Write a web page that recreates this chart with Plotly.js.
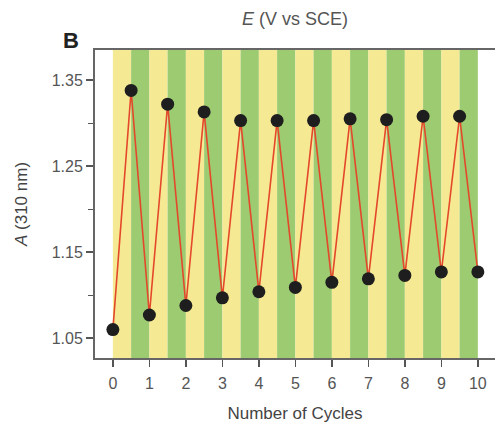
<!DOCTYPE html>
<html>
<head>
<meta charset="utf-8">
<script src="https://cdn.plot.ly/plotly-3.0.1.min.js"></script>
<style>html,body{margin:0;padding:0;background:#fff;}#chart{width:495px;height:425px;}</style>
</head>
<body>
<div id="chart"></div>
<script>
// Data
const cycles = [0, 0.5, 1, 1.5, 2, 2.5, 3, 3.5, 4, 4.5, 5, 5.5, 6, 6.5, 7, 7.5, 8, 8.5, 9, 9.5, 10];
const absorbance = [1.060, 1.338, 1.077, 1.322, 1.088, 1.313, 1.097, 1.303, 1.104, 1.303, 1.109, 1.303, 1.115, 1.305, 1.119, 1.304, 1.123, 1.308, 1.127, 1.308, 1.127];
const stripeStarts = [0, 0.5, 1, 1.5, 2, 2.5, 3, 3.5, 4, 4.5, 5, 5.5, 6, 6.5, 7, 7.5, 8, 8.5, 9, 9.5];
const stripeColors = ["#f6e994", "#9dcb72"];
const xTicks = [0, 1, 2, 3, 4, 5, 6, 7, 8, 9, 10];
const yTicks = [1.05, 1.15, 1.25, 1.35];
const yTickText = ["1.05", "1.15", "1.25", "1.35"];
const yMinorTicks = [1.10, 1.20, 1.30];

const shapes = stripeStarts.map((s, i) => ({
  type: "rect", xref: "x", yref: "paper",
  x0: s, x1: s + 0.5, y0: 0, y1: 1,
  fillcolor: stripeColors[i % 2], line: {width: 0}, layer: "below"
}));

const trace = {
  x: cycles, y: absorbance, mode: "lines+markers", type: "scatter",
  line: {color: "#e4482a", width: 1.6},
  marker: {color: "#1e1e1e", size: 13},
  cliponaxis: false
};

const FONT = "Liberation Sans, Arial, sans-serif";
const tickFont = {family: FONT, size: 16, color: "#555"};

const layout = {
  width: 495, height: 425,
  margin: {l: 95, r: 0, t: 50, b: 67},
  paper_bgcolor: "#fff", plot_bgcolor: "#fff",
  showlegend: false,
  shapes: shapes,
  xaxis: {
    range: [-0.49, 10.47], tickvals: xTicks, ticktext: xTicks.map(String),
    ticks: "outside", ticklen: 7, tickwidth: 1.5, tickcolor: "#555",
    ticklabelstandoff: 3,
    showline: true, linecolor: "#666", linewidth: 2, mirror: true,
    showgrid: false, zeroline: false, tickfont: tickFont,
    title: {text: "Number of Cycles", font: {family: FONT, size: 17, color: "#444"}, standoff: 16}
  },
  yaxis: {
    range: [1.027, 1.385], tickvals: yTicks, ticktext: yTickText,
    ticks: "outside", ticklen: 7, tickwidth: 1.5, tickcolor: "#555",
    minor: {tickvals: yMinorTicks, ticks: "outside", ticklen: 5, tickcolor: "#555", tickwidth: 1.2},
    showline: true, linecolor: "#666", linewidth: 2, mirror: true,
    showgrid: false, zeroline: false, tickfont: tickFont,
    title: {text: "<i>A</i> (310 nm)", font: {family: FONT, size: 17, color: "#444"}, standoff: 20}
  },
  annotations: [
    {text: "<b>B</b>", xref: "paper", yref: "paper", x: -0.06, y: 1.032, xanchor: "center", yanchor: "middle",
     showarrow: false, font: {family: FONT, size: 22, color: "#222"}},
    {text: "<i>E</i> (V vs SCE)", xref: "paper", yref: "paper", x: 0.5, y: 1.1, xanchor: "center", yanchor: "middle",
     showarrow: false, font: {family: FONT, size: 18, color: "#555"}}
  ]
};

Plotly.newPlot("chart", [trace], layout, {displayModeBar: false, staticPlot: true});
</script>
</body>
</html>
